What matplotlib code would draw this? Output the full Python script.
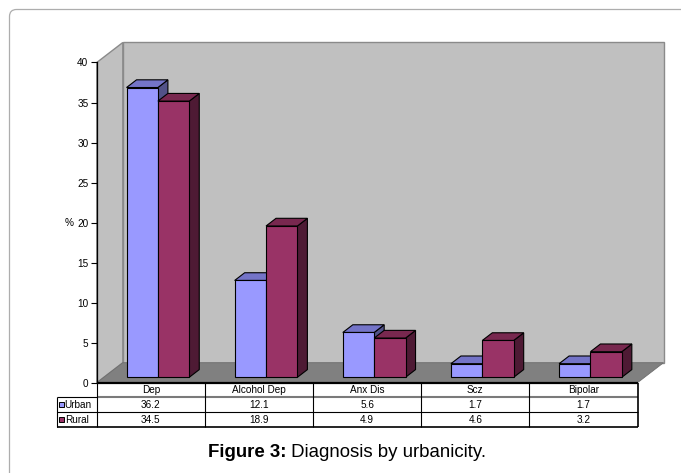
import matplotlib
matplotlib.use("Agg")
import matplotlib.pyplot as plt
from matplotlib.patches import Polygon, Rectangle, FancyBboxPatch
from matplotlib.transforms import IdentityTransform

plt.rcParams['font.family'] = ['Liberation Sans', 'DejaVu Sans']

# ---- data ----
categories = ['Dep', 'Alcohol Dep', 'Anx Dis', 'Scz', 'Bipolar']
series_names = ['Urban', 'Rural']
urban = [36.2, 12.1, 5.6, 1.7, 1.7]
rural = [34.5, 18.9, 4.9, 4.6, 3.2]
y_ticks = [0, 5, 10, 15, 20, 25, 30, 35, 40]

# ---- styling ----
front_colors = ['#9999FF', '#993366']
top_colors = ['#7474C8', '#78284F']
side_colors = ['#525288', '#4E1A34']
wall_color = '#C0C0C0'
floor_color = '#808080'
edge_gray = '#8A8A8A'

W_PX, H_PX, DPI = 681, 473, 100
fig = plt.figure(figsize=(W_PX / DPI, H_PX / DPI), dpi=DPI)
fig.patch.set_facecolor('white')

# rounded frame around the figure panel
frame = FancyBboxPatch((9.5, -40), 720, 463.5 + 40, boxstyle="round,pad=0,rounding_size=7",
                       transform=IdentityTransform(), facecolor='none',
                       edgecolor='#ADADAD', linewidth=0.9)
fig.patches.append(frame)

# front plane of the plot area (pixels from top-left)
x_left, x_right = 96.8, 637.5
y_zero, y_top = 382.7, 62.5
ax = fig.add_axes([x_left / W_PX, 1 - y_zero / H_PX,
                   (x_right - x_left) / W_PX, (y_zero - y_top) / H_PX])
ax.set_xlim(-0.5, len(categories) - 0.5)
ax.set_ylim(0, 40)
ax.patch.set_visible(False)
for s in ['top', 'right', 'bottom']:
    ax.spines[s].set_visible(False)
ax.spines['left'].set_color('black')
ax.spines['left'].set_linewidth(0.9)
ax.spines['left'].set_zorder(6)
ax.set_xticks([])
ax.set_yticks(y_ticks)
ax.tick_params(axis='y', direction='out', length=4.5, width=0.8, labelsize=7.2, pad=1.5)

# oblique depth vector in data units
px_per_x = (x_right - x_left) / len(categories)
px_per_y = (y_zero - y_top) / 40.0
DX = 26.0 / px_per_x
DY = 20.0 / px_per_y


def P(x, v, d):
    return (x + DX * d, v + DY * d)


def face(pts, fc, ec, lw, z):
    ax.add_patch(Polygon(pts, closed=True, facecolor=fc, edgecolor=ec, linewidth=lw,
                         zorder=z, clip_on=False, joinstyle='miter'))


xmin, xmax = -0.5, len(categories) - 0.5
ymax = 40
# walls and floor
face([P(xmin, 0, 1), P(xmax, 0, 1), P(xmax, ymax, 1), P(xmin, ymax, 1)], wall_color, edge_gray, 1.0, 1)
face([P(xmin, 0, 0), P(xmin, ymax, 0), P(xmin, ymax, 1), P(xmin, 0, 1)], wall_color, edge_gray, 1.0, 1.1)
face([P(xmin, 0, 0), P(xmax, 0, 0), P(xmax, 0, 1), P(xmin, 0, 1)], floor_color, '#6E6E6E', 0.6, 1.2)

# 3D bars
bar_w = 0.29
d0, d1 = 0.27, 0.655
for i in range(len(categories)):
    for s, vals in enumerate([urban, rural]):
        v = vals[i]
        x0 = i - bar_w + s * bar_w
        x1 = x0 + bar_w
        z = 3 + i * 0.1 + s * 0.05
        face([P(x1, 0, d0), P(x1, 0, d1), P(x1, v, d1), P(x1, v, d0)], side_colors[s], 'black', 0.8, z)
        face([P(x0, v, d0), P(x1, v, d0), P(x1, v, d1), P(x0, v, d1)], top_colors[s], 'black', 0.8, z)
        face([P(x0, 0, d0), P(x1, 0, d0), P(x1, v, d0), P(x0, v, d0)], front_colors[s], 'black', 0.8, z)

ax.text(xmin - 27.3 / px_per_x, 20, '%', ha='center', va='center', fontsize=7.2)

# ---- data table under the chart ----
y_head = -(396.7 - y_zero) / px_per_y
y_urb = -(412.3 - y_zero) / px_per_y
y_rur = -(426.7 - y_zero) / px_per_y
x_lab = xmin - (x_left - 57.3) / px_per_x
line_kw = dict(clip_on=False, solid_capstyle='butt')

ax.plot([xmin, xmax], [0, 0], color='black', lw=1.6, zorder=7, **line_kw)
ax.plot([x_lab, xmin], [y_head, y_head], color='black', lw=0.8, zorder=7, **line_kw)
ax.plot([xmin, xmax], [y_head, y_head], color='#7A7A7A', lw=1.5, zorder=7, **line_kw)
ax.plot([x_lab, xmax], [y_urb, y_urb], color='black', lw=0.8, zorder=7, **line_kw)
ax.plot([x_lab, xmax], [y_rur, y_rur], color='black', lw=1.2, zorder=7, **line_kw)
ax.plot([x_lab, x_lab], [y_head, y_rur], color='black', lw=0.8, zorder=7, **line_kw)
for k in range(len(categories) + 1):
    ax.plot([xmin + k, xmin + k], [0, y_rur], color='black',
            lw=1.2 if k == len(categories) else 0.8, zorder=7, **line_kw)

rows = [urban, rural]
row_mid = [(y_head + y_urb) / 2, (y_urb + y_rur) / 2]
for i, cat in enumerate(categories):
    ax.text(i, y_head / 2, cat, ha='center', va='center', fontsize=7.2, clip_on=False)
    for r, vals in enumerate(rows):
        ax.text(i, row_mid[r], f'{vals[i]:.1f}', ha='center', va='center', fontsize=7.2, clip_on=False)

key_w = 4.8 / px_per_x
key_h = 5.0 / px_per_y
key_x = x_lab + 2.0 / px_per_x
for r, name in enumerate(series_names):
    ax.add_patch(Rectangle((key_x, row_mid[r] - key_h / 2), key_w, key_h,
                           facecolor=front_colors[r], edgecolor='black', lw=0.7,
                           clip_on=False, zorder=8))
    ax.text(key_x + key_w + 0.6 / px_per_x, row_mid[r], name, ha='left', va='center',
            fontsize=7.2, clip_on=False)

# ---- caption ----
cap_y = 1 - 456.5 / H_PX
t1 = fig.text(0.3, cap_y, 'Figure 3:', fontsize=13.4, fontweight='bold', ha='left', va='baseline')
t2 = fig.text(0.3, cap_y, ' Diagnosis by urbanicity.', fontsize=13.4, ha='left', va='baseline')
fig.canvas.draw()
r = fig.canvas.get_renderer()
w1 = t1.get_window_extent(r).width
w2 = t2.get_window_extent(r).width
center_px = 347.0
start = center_px - (w1 + w2) / 2
t1.set_x(start / W_PX)
t2.set_x((start + w1) / W_PX)

fig.savefig('out.png', dpi=DPI)
